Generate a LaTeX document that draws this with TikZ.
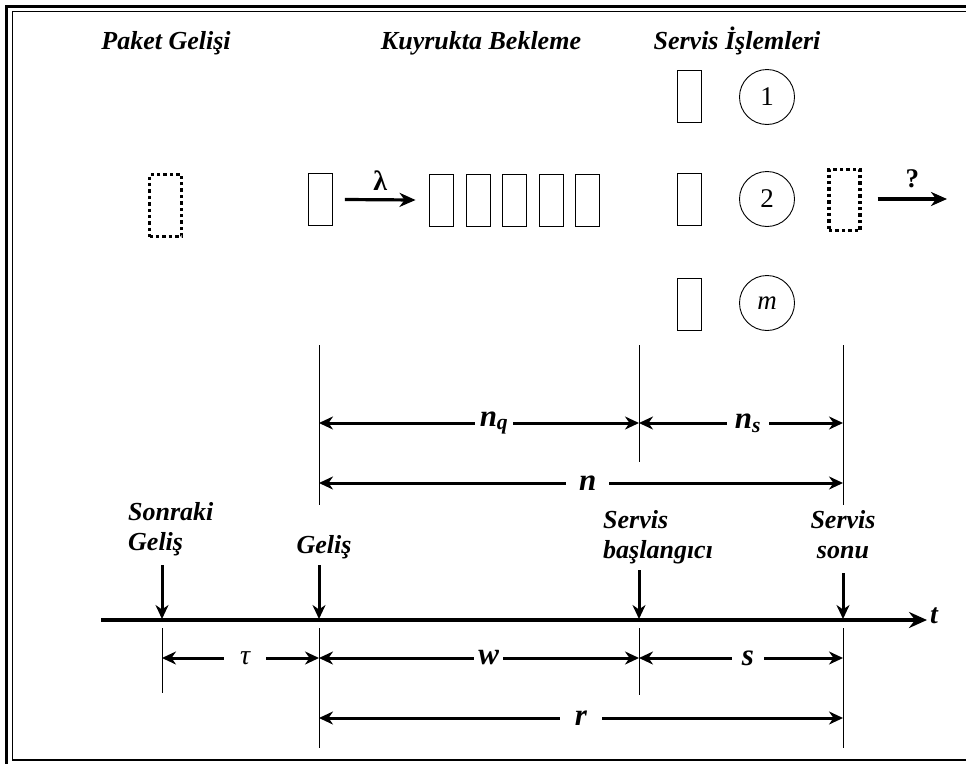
\documentclass[tikz,border=0pt]{standalone}
\usepackage{fontspec}
\setmainfont{Liberation Serif}
\usetikzlibrary{arrows.meta}
\begin{document}
\begin{tikzpicture}[x=1pt,y=-1pt,
  title/.style={font=\fontsize{26}{30}\selectfont\bfseries\itshape, inner sep=0pt, anchor=base},
  lbl/.style={font=\fontsize{26}{30}\selectfont\bfseries\itshape, inner sep=0pt},
  pbox/.style={draw, line width=0.9pt, minimum width=24pt, minimum height=52pt, inner sep=0pt},
  dotbox/.style={draw, line width=3.4pt, dash pattern=on 3.4pt off 3pt, minimum width=32pt, minimum height=62pt, inner sep=0pt},
  srv/.style={draw, circle, line width=0.9pt, minimum size=55pt, inner sep=0pt, font=\fontsize{27}{30}\selectfont},
  tickline/.style={line width=0.9pt},
  tip/.tip={Stealth[length=14pt,width=13pt,inset=4.5pt]},
  dimarr/.style={line width=3pt, {tip}-{tip}},
  dimlbl/.style={fill=white, font=\fontsize{31}{34}\selectfont\bfseries\itshape, inner ysep=0pt},
  downarr/.style={line width=3pt, -{tip}},
  flowarr/.style={line width=3.2pt, -{Stealth[length=16pt,width=14pt,inset=5pt]}},
  axisline/.style={line width=4pt, -{Stealth[length=18pt,width=16pt,inset=6pt]}}
]
\useasboundingbox (0,0) rectangle (966,763);
\clip (0,0) rectangle (966,763);
% frame
\draw[line width=3pt] (6.5,6) rectangle (1000,800);
\draw[line width=1.8pt] (12.5,11.5) rectangle (990,760);

% titles
\node[title] (t1) at (166,49) {Paket Gelişi};
\node[title] (t2) at (481,49) {Kuyrukta Bekleme};
\node[title] (t3) at (737,49) {Servis İşlemleri};

% arriving packet
\node[dotbox] (arr) at (165.5,205.5) {};
\node[pbox] (pkt) at (320.5,199.5) {};
\node[pbox] (q1) at (441,200) {};
\node[pbox] (q2) at (478,200) {};
\node[pbox] (q3) at (514,200) {};
\node[pbox] (q4) at (551,200) {};
\node[pbox] (q5) at (587,200) {};
\draw[flowarr] ([xshift=12pt]pkt.east) -- node[above=4pt, font=\fontsize{28}{30}\selectfont\bfseries] (lam) {λ} ([xshift=-13pt]q1.west);

% servers
\node[pbox] (s1) at (689.5,96) {};
\node[pbox] (s2) at (689.5,199) {};
\node[pbox] (s3) at (689.5,304) {};
\node[srv] (c1) at (767,97) {1};
\node[srv] (c2) at (767,199) {2};
\node[srv] (c3) at (767,303) {\itshape m};
\node[dotbox, minimum width=31pt, minimum height=61pt] (dep) at (844.5,200) {};
\coordinate (outend) at (947,199);
\draw[flowarr] ([xshift=16pt]dep.east |- outend) -- node[above=6pt, font=\fontsize{27}{30}\selectfont\bfseries] (qm) {?} (outend);

% vertical guide lines (top)
\coordinate (Bt) at (319,345); \coordinate (Bb) at (319,505);
\coordinate (Ct) at (639,345); \coordinate (Cb) at (639,462);
\coordinate (Dt) at (843,345); \coordinate (Db) at (843,505);
\draw[tickline] (Bt) -- (Bb);
\draw[tickline] (Ct) -- (Cb);
\draw[tickline] (Dt) -- (Db);

% dimension arrows (top)
\coordinate (nqL) at (319,423); \coordinate (nqR) at (639,423); \coordinate (nsR) at (843,423);
\coordinate (nL) at (319,483); \coordinate (nR) at (843,483);
\draw[dimarr] (nqL) -- node[dimlbl, pos=0.547, inner xsep=5pt] (lnq) {n\textsubscript{q}} (nqR);
\draw[dimarr] (nqR) -- node[dimlbl, pos=0.534, inner xsep=8pt] (lns) {n\textsubscript{s}} (nsR);
\draw[dimarr] (nL) -- node[dimlbl, pos=0.513, inner xsep=13pt] (ln) {n} (nR);

% time axis
\coordinate (ax0) at (101,620); \coordinate (ax1) at (927,620);
\draw[axisline] (ax0) -- (ax1);
\node[font=\fontsize{28}{32}\selectfont\bfseries\itshape, anchor=west, inner sep=0pt] (tl) at (930,616) {t};

% event arrows
\coordinate (Aa) at (162,565); \coordinate (Ab) at (162,619);
\coordinate (Ba) at (319,565); \coordinate (Bx) at (319,619);
\coordinate (Ca) at (639,570); \coordinate (Cx) at (639,619);
\coordinate (Da) at (843,573); \coordinate (Dx) at (843,619);
\draw[downarr] (Aa) -- (Ab);
\draw[downarr] (Ba) -- (Bx);
\draw[downarr] (Ca) -- (Cx);
\draw[downarr] (Da) -- (Dx);
\node[lbl, align=left, anchor=north west] (lsg) at (128,502) {Sonraki\\Geliş};
\node[lbl, anchor=base] (lg) at (324,553) {Geliş};
\node[lbl, align=left, anchor=north west] (lsb) at (603,510) {Servis\\başlangıcı};
\node[lbl, align=center, anchor=north] (lss) at (843,510) {Servis\\sonu};

% vertical guide lines (bottom)
\coordinate (A1) at (162,628); \coordinate (A2) at (162,693);
\coordinate (B1) at (319,628); \coordinate (B2) at (319,748);
\coordinate (C1) at (639,628); \coordinate (C2) at (639,695);
\coordinate (D1) at (843,628); \coordinate (D2) at (843,748);
\draw[tickline] (A1) -- (A2);
\draw[tickline] (B1) -- (B2);
\draw[tickline] (C1) -- (C2);
\draw[tickline] (D1) -- (D2);

% dimension arrows (bottom)
\coordinate (tauL) at (162,658); \coordinate (wL) at (319,658); \coordinate (sL) at (639,658); \coordinate (sR) at (843,658);
\coordinate (rL) at (319,718); \coordinate (rR) at (843,718);
\draw[dimarr] (tauL) -- node[dimlbl, pos=0.53, inner xsep=16pt, font=\fontsize{28}{32}\selectfont\itshape] (ltau) {τ} (wL);
\draw[dimarr] (wL) -- node[dimlbl, pos=0.53, inner xsep=4pt] (lw) {w} (sL);
\draw[dimarr] (sL) -- node[dimlbl, pos=0.534, inner xsep=10pt] (ls) {s} (sR);
\draw[dimarr] (rL) -- node[dimlbl, pos=0.50, inner xsep=15pt] (lr) {r} (rR);
\end{tikzpicture}
\end{document}
